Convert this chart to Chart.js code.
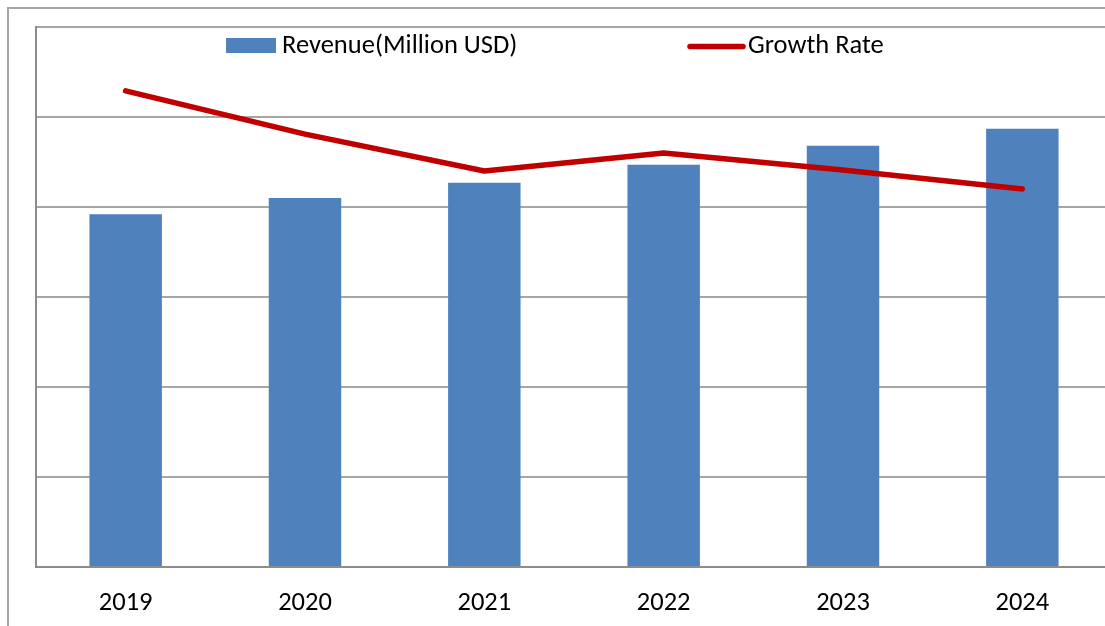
<!DOCTYPE html>
<html>
<head>
<meta charset="utf-8">
<script src="https://cdn.jsdelivr.net/npm/chart.js@4.4.1/dist/chart.umd.min.js"></script>
<style>
  html, body { margin: 0; padding: 0; background: #fff; overflow: hidden; width: 1105px; height: 626px; }
  #frame { position: absolute; left: 7px; top: 7px; width: 1400px; height: 900px; border: 2px solid #a6a6a6; box-sizing: border-box; }
  #wrap { position: absolute; left: 0; top: 0; width: 1125px; height: 626px; }
</style>
</head>
<body>
<div id="frame"></div>
<div id="wrap"><canvas id="chart" width="1125" height="626"></canvas></div>
<script>
// Yearly revenue and growth rate
const years = ['2019', '2020', '2021', '2022', '2023', '2024'];
const revenue = [392, 410, 427, 447, 468, 487];      // Million USD
const growthRate = [5.29, 4.81, 4.40, 4.60, 4.41, 4.20]; // %

const revenueLabel = 'Revenue(Million USD)';
const growthLabel = 'Growth Rate';

const FONT = 'Carlito, Lato, sans-serif';
const FONT_SIZE = 26.5;
const BAR_COLOR = '#4f81bd';
const LINE_COLOR = '#c00000';

// Legend drawn inside the plot area, near its top edge
const insideLegend = {
  id: 'insideLegend',
  afterDraw(chart) {
    const ctx = chart.ctx;
    const ds = chart.data.datasets;
    ctx.save();
    ctx.font = FONT_SIZE + 'px ' + FONT;
    ctx.textBaseline = 'middle';
    // bar series swatch
    ctx.fillStyle = ds[1].backgroundColor;
    ctx.fillRect(226, 38, 50, 15);
    ctx.fillStyle = '#000';
    ctx.fillText(ds[1].label, 282, 46);
    // line series swatch
    ctx.strokeStyle = ds[0].borderColor;
    ctx.lineWidth = 5.5;
    ctx.lineCap = 'round';
    ctx.beginPath();
    ctx.moveTo(690, 46.5);
    ctx.lineTo(743, 46.5);
    ctx.stroke();
    ctx.fillText(ds[0].label, 748, 46);
    ctx.restore();
  }
};

new Chart(document.getElementById('chart'), {
  data: {
    labels: years,
    datasets: [
      {
        type: 'line',
        label: growthLabel,
        data: growthRate,
        yAxisID: 'y1',
        borderColor: LINE_COLOR,
        backgroundColor: LINE_COLOR,
        borderWidth: 5.5,
        borderCapStyle: 'round',
        borderJoinStyle: 'round',
        pointRadius: 0,
        tension: 0,
        order: 0
      },
      {
        type: 'bar',
        label: revenueLabel,
        data: revenue,
        yAxisID: 'y',
        backgroundColor: BAR_COLOR,
        borderWidth: 0,
        barPercentage: 1,
        categoryPercentage: 0.404,
        order: 1
      }
    ]
  },
  options: {
    responsive: false,
    animation: false,
    layout: { padding: { left: 36, top: 27, right: 13, bottom: 0 } },
    plugins: {
      legend: { display: false },
      tooltip: { enabled: false }
    },
    scales: {
      x: {
        grid: { display: false, drawTicks: false },
        border: { display: true, color: '#8c8c8c', width: 2 },
        ticks: { color: '#000', font: { family: FONT, size: FONT_SIZE }, padding: 20, maxRotation: 0 },
        afterFit(scale) { scale.height = 59; }
      },
      y: {
        min: 0, max: 600,
        ticks: { display: false, stepSize: 100 },
        grid: { color: '#a6a6a6', lineWidth: 2, drawTicks: false },
        border: { display: true, color: '#8c8c8c', width: 2 },
        afterFit(scale) { scale.width = 0; }
      },
      y1: {
        display: false,
        position: 'right',
        min: 0, max: 6,
        grid: { display: false }
      }
    }
  },
  plugins: [insideLegend]
});
</script>
</body>
</html>
